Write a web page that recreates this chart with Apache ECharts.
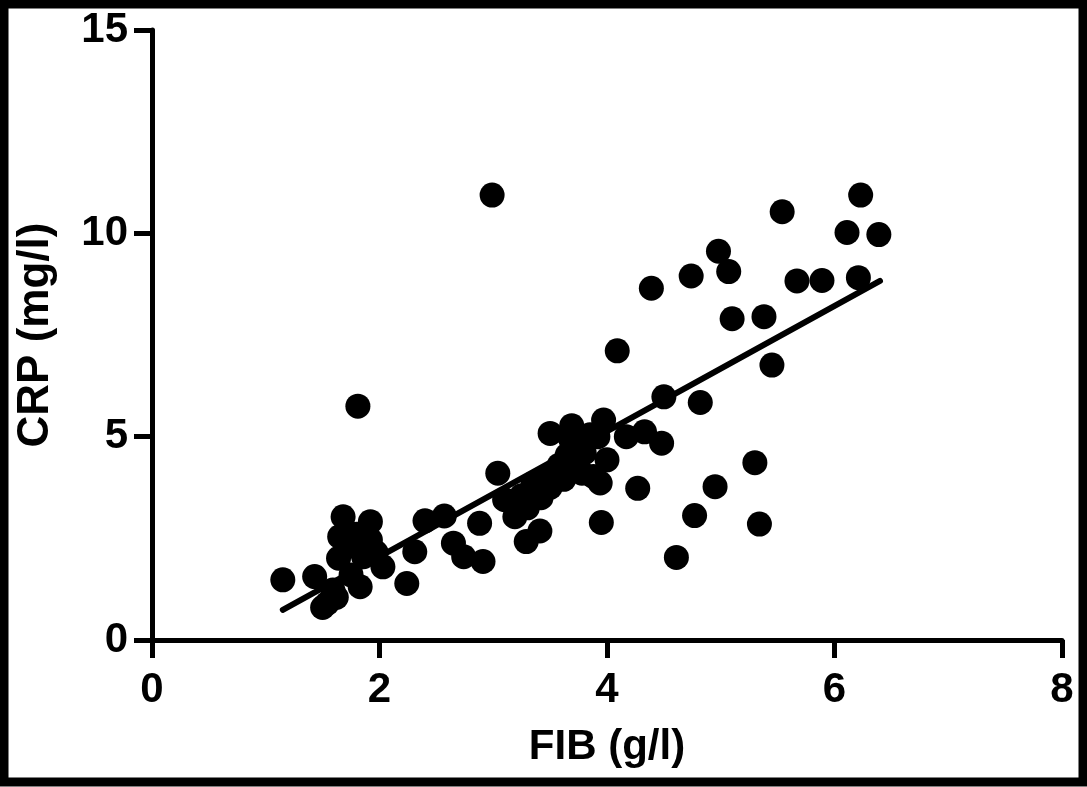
<!DOCTYPE html>
<html>
<head>
<meta charset="utf-8">
<script src="https://cdn.jsdelivr.net/npm/echarts@6/dist/echarts.min.js"></script>
<style>
html,body{margin:0;padding:0;background:#fff;}
#chart{width:1087px;height:787px;}
</style>
</head>
<body>
<div id="chart"></div>
<script>
// FIB (g/l) values
var fibValues = [
  2.99, 1.81, 6.23, 5.54, 6.11, 6.39, 4.98, 5.07, 4.74, 4.39,
  5.67, 5.89, 6.21, 5.10, 5.38, 4.09, 5.45, 4.50, 4.82, 5.30,
  4.95, 4.77, 5.34, 4.61, 4.48, 4.27, 4.33, 4.17, 3.97, 3.69,
  3.50, 4.00, 3.88, 3.95, 3.04, 2.88, 3.19, 3.41, 3.29, 2.91,
  2.74, 2.65, 2.57, 2.40, 2.31, 2.24, 1.15, 1.43, 1.68, 1.92,
  1.65, 1.92, 1.64, 1.86, 2.03, 1.83, 1.54, 1.59, 1.50, 1.62,
  1.75, 1.72, 1.97, 1.80, 3.10, 3.25, 3.35, 3.42, 3.50, 3.55,
  3.62, 3.65, 3.72, 3.75, 3.80, 3.68, 3.85, 3.58, 3.45, 3.30,
  3.78, 3.92, 3.94, 3.32
];
// CRP (mg/l) values
var crpValues = [
  10.94, 5.75, 10.94, 10.53, 10.02, 9.97, 9.56, 9.06, 8.95, 8.65,
  8.83, 8.84, 8.91, 7.90, 7.95, 7.11, 6.76, 5.98, 5.84, 4.36,
  3.77, 3.06, 2.85, 2.03, 4.84, 3.73, 5.12, 5.00, 5.41, 5.27,
  5.08, 4.43, 4.02, 2.89, 4.10, 2.87, 3.03, 2.68, 2.42, 1.93,
  2.05, 2.38, 3.05, 2.93, 2.17, 1.39, 1.48, 1.56, 3.03, 2.91,
  2.54, 2.46, 2.01, 2.05, 1.80, 1.31, 0.90, 1.23, 0.80, 1.05,
  1.60, 2.30, 2.15, 2.60, 3.45, 3.55, 3.85, 3.50, 3.75, 4.10,
  3.95, 4.55, 4.35, 4.85, 4.60, 4.95, 5.05, 4.30, 3.95, 3.25,
  4.10, 5.00, 3.86, 3.52
];
// Regression line endpoints
var fitX = [1.15, 6.40];
var fitY = [0.74, 8.83];
// Tick labels
var xTicks = [0, 2, 4, 6, 8];
var yTicks = [0, 5, 10, 15];
var xName = 'FIB (g/l)';
var yName = 'CRP (mg/l)';

var points = fibValues.map(function (x, i) { return [x, crpValues[i]]; });
var fitLine = fitX.map(function (x, i) { return [x, fitY[i]]; });

var chart = echarts.init(document.getElementById('chart'));
var font = 'Liberation Sans, Arial, sans-serif';
var axisCommon = {
  axisLine: { show: true, lineStyle: { color: '#000', width: 5 } },
  axisTick: { show: true, length: 18, lineStyle: { color: '#000', width: 5 } },
  splitLine: { show: false },
  axisLabel: { color: '#000', fontFamily: font, fontWeight: 'bold', fontSize: 42 }
};
chart.setOption({
  backgroundColor: '#fff',
  animation: false,
  grid: { left: 152, right: 25, top: 30, bottom: 147 },
  xAxis: Object.assign({}, axisCommon, {
    type: 'value', min: xTicks[0], max: xTicks[xTicks.length - 1], interval: 2,
    name: xName, nameLocation: 'middle', nameGap: 86,
    nameTextStyle: { color: '#000', fontFamily: font, fontWeight: 'bold', fontSize: 42 },
    axisLabel: Object.assign({}, axisCommon.axisLabel, { margin: 29 })
  }),
  yAxis: Object.assign({}, axisCommon, {
    type: 'value', min: yTicks[0], max: yTicks[yTicks.length - 1], interval: 5,
    name: yName, nameLocation: 'middle', nameGap: 94,
    nameTextStyle: { color: '#000', fontFamily: font, fontWeight: 'bold', fontSize: 44 },
    axisLabel: Object.assign({}, axisCommon.axisLabel, { margin: 24 })
  }),
  graphic: [{
    type: 'rect', z: 100, silent: true,
    shape: { x: 4, y: 4, width: 1079, height: 778 },
    style: { fill: 'none', stroke: '#000', lineWidth: 9 }
  }],
  series: [
    {
      type: 'scatter', data: points, symbol: 'circle', symbolSize: 25,
      itemStyle: { color: '#000', opacity: 1 }, z: 3
    },
    {
      type: 'line', data: fitLine, symbol: 'none', z: 4,
      lineStyle: { color: '#000', width: 6, cap: 'round' }
    }
  ]
});
</script>
</body>
</html>
